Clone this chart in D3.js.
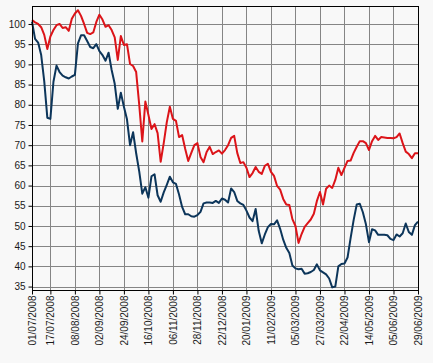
<!DOCTYPE html>
<html>
<head>
<meta charset="utf-8">
<script src="https://cdn.jsdelivr.net/npm/d3@7"></script>
<style>
  body { margin: 0; background: #f8f8f8; }
  text { font-family: "Liberation Sans", Arial, sans-serif; font-size: 10px; fill: #1a1a1a; }
</style>
</head>
<body>
<div id="chart"></div>
<script>
// x axis labels and the trading-day index each one sits on
const tickLabels = ["01/07/2008","17/07/2008","08/08/2008","02/09/2008","24/09/2008","16/10/2008",
  "06/11/2008","28/11/2008","22/12/2008","20/01/2009","11/02/2009","05/03/2009","27/03/2009",
  "22/04/2009","14/05/2009","05/06/2009","29/06/2009"]
const tickDays = [0,12,28,44,60,76,92,108,124,140,156,172,188,204,220,236,252]

// one value every 2 trading days (day = 2*k)
const redSeries = [
  101.0,100.4,100.0,99.2,97.3,93.8,96.9,98.5,99.7,100.0,99.0,99.2,98.3,101.3,102.6,103.4,
  102.0,100.0,97.8,97.5,97.9,100.5,102.3,101.1,99.3,99.7,98.5,96.7,91.1,97.0,94.8,95.0,
  90.1,89.6,88.1,80.0,70.9,80.8,77.5,74.0,75.2,73.0,65.9,70.5,75.7,79.5,76.5,76.0,
  72.0,72.5,69.1,66.1,68.1,70.0,70.5,67.1,65.8,68.3,69.6,67.8,68.3,68.7,67.9,68.8,
  70.0,71.8,72.3,68.1,65.6,65.8,64.4,62.1,63.1,64.6,63.4,62.9,64.9,65.4,63.4,62.4,
  59.9,59.0,56.7,55.3,55.2,51.7,50.0,45.8,48.0,49.8,50.7,51.6,53.0,56.2,58.4,55.3,
  59.2,60.0,59.4,61.4,64.4,62.6,64.4,66.1,66.2,68.1,69.6,71.0,71.0,70.5,68.8,71.0,
  72.3,71.3,72.0,71.9,71.8,71.8,71.7,72.0,72.9,70.5,68.4,67.8,66.8,68.0,68.0]
const blueSeries = [
  100.6,96.3,95.4,92.3,85.8,76.8,76.5,85.7,89.7,88.1,87.2,86.8,86.5,87.0,87.4,95.2,
  97.2,97.2,95.8,94.3,94.0,95.0,93.3,92.3,90.9,92.9,88.6,85.2,79.0,83.0,79.5,76.4,
  70.0,73.2,68.0,63.5,58.0,59.6,57.0,62.3,62.8,57.6,56.0,58.3,60.2,62.2,60.8,60.4,
  57.8,54.7,52.9,52.9,52.4,52.3,52.7,53.5,55.6,55.8,55.8,55.7,56.2,55.7,56.8,56.5,
  55.8,59.3,58.4,56.2,55.6,55.2,53.8,52.1,51.2,54.2,48.8,45.7,47.9,49.7,50.5,50.4,
  51.4,49.3,46.6,44.6,43.3,40.2,39.5,39.3,39.4,38.2,38.3,38.6,39.1,40.5,39.0,38.5,
  38.0,37.0,34.8,35.0,40.0,40.6,40.7,42.2,47.0,51.5,55.3,55.5,53.4,50.4,46.0,49.2,
  48.9,47.8,47.8,47.8,47.7,46.8,46.5,47.9,47.4,48.2,50.6,48.5,47.8,50.2,51.1]

const width = 433, height = 363
const plot = { left: 32, top: 6, right: 418, bottom: 290 }
const lastDay = 252

const svg = d3.select("#chart").append("svg")
  .attr("width", width)
  .attr("height", height)

svg.append("rect").attr("width", width).attr("height", height).attr("fill", "#f8f8f8")

const x = d3.scaleLinear().domain([0, lastDay]).range([plot.left, plot.right])
const y = d3.scaleLinear().domain([34.15, 104.45]).range([plot.bottom, plot.top])

//grid
const grid = svg.append("g").attr("stroke", "#858585").attr("stroke-width", 1)
d3.range(35, 105, 5).forEach(v => {
  const yy = Math.round(y(v)) + 0.5
  grid.append("line").attr("x1", plot.left).attr("x2", plot.right).attr("y1", yy).attr("y2", yy)
})
tickDays.forEach(d => {
  const xx = Math.round(x(d)) + 0.5
  grid.append("line").attr("x1", xx).attr("x2", xx).attr("y1", plot.top).attr("y2", plot.bottom)
})

//lines
const line = d3.line()
  .x((d, i) => x(i * 2))
  .y(d => y(d))

svg.append("path").datum(blueSeries)
  .attr("fill", "none").attr("stroke", "#0c355a").attr("stroke-width", 2)
  .attr("stroke-linejoin", "round").attr("d", line)
svg.append("path").datum(redSeries)
  .attr("fill", "none").attr("stroke", "#dc1419").attr("stroke-width", 2)
  .attr("stroke-linejoin", "round").attr("d", line)

//frame
svg.append("rect")
  .attr("x", plot.left + 0.5).attr("y", plot.top + 0.5)
  .attr("width", plot.right - plot.left).attr("height", plot.bottom - plot.top)
  .attr("fill", "none").attr("stroke", "#000")

//y axis, minor ticks every unit
const yAxisG = svg.append("g").attr("transform", "translate(" + (plot.left + 0.5) + ",0)")
yAxisG.call(d3.axisLeft(y).tickValues(d3.range(35, 105, 1)).tickSize(2).tickFormat(""))
yAxisG.call(d3.axisLeft(y).tickValues(d3.range(35, 105, 5)).tickSize(4).tickPadding(3))
yAxisG.selectAll(".domain").remove()
yAxisG.selectAll("line").attr("stroke", "#000")
yAxisG.selectAll("text").style("font-size", "10px")

//x axis
const xAxisG = svg.append("g").attr("transform", "translate(0," + (plot.bottom + 0.5) + ")")
xAxisG.call(d3.axisBottom(x).tickValues(d3.range(0, lastDay + 1, 4)).tickSize(2).tickFormat(""))
xAxisG.call(d3.axisBottom(x).tickValues(tickDays).tickSize(4).tickFormat((d, i) => tickLabels[i]))
xAxisG.selectAll(".domain").remove()
xAxisG.selectAll("line").attr("stroke", "#000")
xAxisG.selectAll("text")
  .style("font-size", "10px")
  .attr("transform", "rotate(-90)")
  .attr("text-anchor", "end")
  .attr("x", -5)
  .attr("y", 0)
  .attr("dy", "0.35em")
</script>
</body>
</html>
